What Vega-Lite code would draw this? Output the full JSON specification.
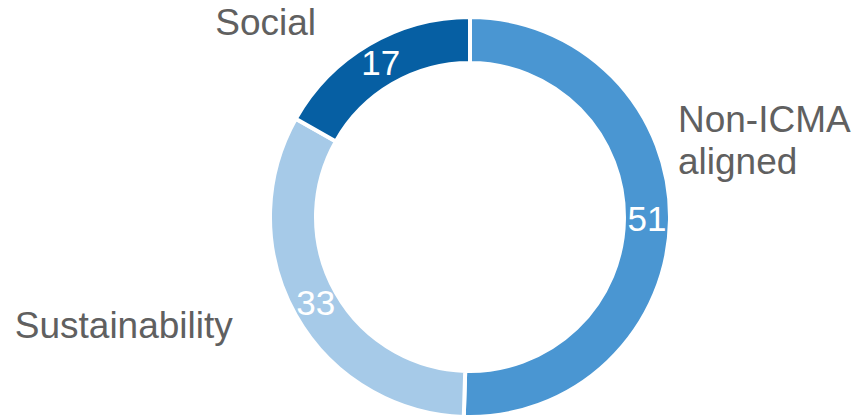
{
  "$schema": "https://vega.github.io/schema/vega-lite/v6.json",
  "width": 400,
  "height": 400,
  "autosize": {"type": "none"},
  "padding": {"left": 270, "top": 17, "right": 184, "bottom": 1},
  "background": "white",
  "view": {"stroke": null},
  "data": {
    "values": [
      {"label": "Non-ICMA aligned", "value": 51, "order": 1},
      {"label": "Sustainability", "value": 33, "order": 2},
      {"label": "Social", "value": 17, "order": 3}
    ]
  },
  "encoding": {
    "theta": {"field": "value", "type": "quantitative", "stack": true},
    "order": {"field": "order", "type": "quantitative"}
  },
  "layer": [
    {
      "mark": {"type": "arc", "outerRadius": 200, "innerRadius": 154, "stroke": "white", "strokeWidth": 4},
      "encoding": {
        "color": {
          "field": "label",
          "type": "nominal",
          "scale": {"domain": ["Non-ICMA aligned", "Sustainability", "Social"], "range": ["#4a96d2", "#a6cae8", "#065fa3"]},
          "legend": null
        }
      }
    },
    {
      "mark": {"type": "text", "radius": 177, "fontSize": 35, "font": "Liberation Sans", "fill": "white", "align": "center", "baseline": "middle"},
      "encoding": {"text": {"field": "value", "type": "quantitative"}}
    },
    {
      "mark": {"type": "text", "radius": 208, "fontSize": 37, "font": "Liberation Sans", "fill": "#606060", "align": "left", "baseline": "alphabetic", "dy": -88, "lineBreak": " ", "lineHeight": 42},
      "encoding": {"text": {"condition": {"test": "datum.label == 'Non-ICMA aligned'", "field": "label"}, "value": ""}}
    },
    {
      "mark": {"type": "text", "radius": 208, "fontSize": 37, "font": "Liberation Sans", "fill": "#606060", "align": "right", "baseline": "alphabetic", "dx": -49, "dy": -2},
      "encoding": {"text": {"condition": {"test": "datum.label == 'Social'", "field": "label"}, "value": ""}}
    },
    {
      "mark": {"type": "text", "radius": 208, "fontSize": 37, "font": "Liberation Sans", "fill": "#606060", "align": "right", "baseline": "alphabetic", "dx": -56, "dy": 19},
      "encoding": {"text": {"condition": {"test": "datum.label == 'Sustainability'", "field": "label"}, "value": ""}}
    }
  ]
}
